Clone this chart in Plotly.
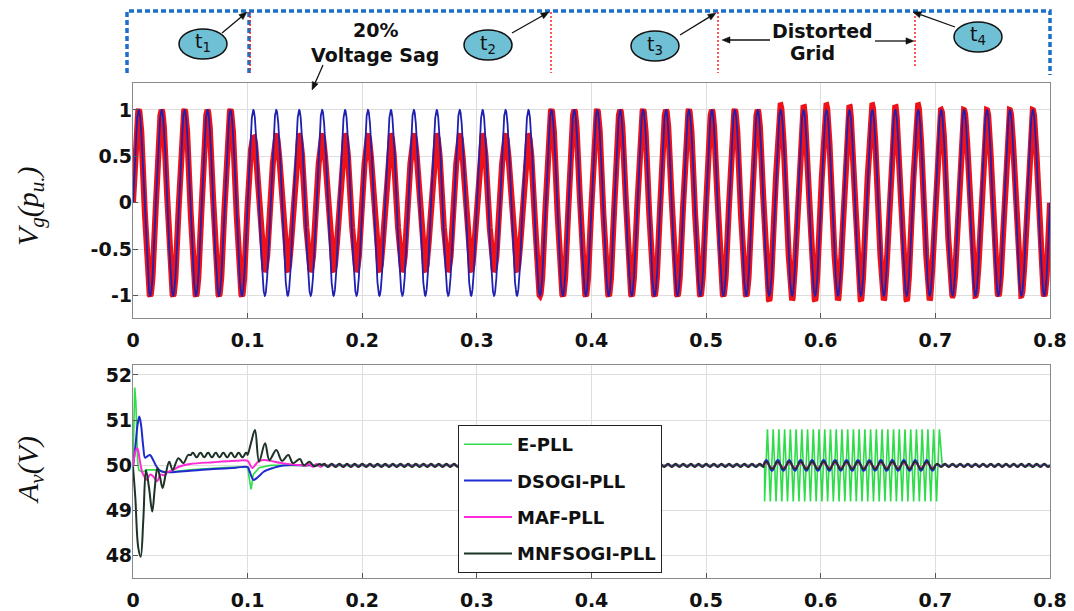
import numpy as np
import plotly.graph_objects as go

W, H = 1074, 611

# ---------------- top panel: grid voltage (p.u.) ----------------
F_GRID = 50.0          # Hz
T_END = 0.8
blue_amp = 1.0         # reference voltage amplitude
red_seg_start = [0.00, 0.10, 0.35, 0.55, 0.70]
red_seg_end   = [0.10, 0.35, 0.55, 0.70, 0.80]
red_seg_amp   = [1.00, 0.72, 1.00, 1.00, 1.00]
red_seg_h3    = [0.00, 0.00, 0.00, -0.03, 0.00]   # 3rd harmonic (distorted grid)
red_seg_h5    = [0.00, 0.00, 0.00, 0.02, 0.00]    # 5th harmonic

x_ticks = [0, 0.1, 0.2, 0.3, 0.4, 0.5, 0.6, 0.7, 0.8]
x_tick_text = ["0", "0.1", "0.2", "0.3", "0.4", "0.5", "0.6", "0.7", "0.8"]
y1_ticks = [-1, -0.5, 0, 0.5, 1]
y1_tick_text = ["-1", "-0.5", "0", "0.5", "1"]
y2_ticks = [48, 49, 50, 51, 52]
y2_tick_text = ["48", "49", "50", "51", "52"]

# ---------------- bottom panel: estimated amplitude (V) ----------------
series_names = ["E-PLL", "DSOGI-PLL", "MAF-PLL", "MNFSOGI-PLL"]
series_colors = ["#2fdc4a", "#1f2ad0", "#ff2bd6", "#1d3327"]

epll_t = [0.0, 0.0008, 0.0015, 0.0025, 0.004, 0.005, 0.008, 0.012, 0.02, 0.03,
          0.05, 0.08, 0.1, 0.1015, 0.103, 0.105, 0.11, 0.12, 0.15]
epll_v = [50.0, 51.0, 51.72, 51.4, 50.1, 49.9, 49.85, 49.9, 49.9, 49.85,
          49.9, 49.95, 49.97, 49.7, 49.47, 49.8, 49.95, 50.0, 50.0]
epll_ripple = [(0.15, 0.551, 50.0, 0.01, 150), (0.706, 0.8, 50.0, 0.01, 150)]
epll_dist = dict(start=0.551, end=0.706, period=0.005, hi=50.8, lo=49.2)

dsogi_t = [0.0, 0.002, 0.004, 0.0055, 0.007, 0.009, 0.0105, 0.0125, 0.0148, 0.018,
           0.0206, 0.024, 0.028, 0.035, 0.05, 0.07, 0.09, 0.1, 0.102, 0.105,
           0.108, 0.111, 0.114, 0.122, 0.131, 0.15]
dsogi_v = [49.97, 50.4, 50.9, 51.08, 50.9, 50.4, 50.17, 50.2, 50.23, 50.1,
           49.97, 49.88, 49.85, 49.85, 49.88, 49.92, 49.95, 49.96, 49.85, 49.68,
           49.72, 49.79, 49.86, 49.94, 50.0, 50.0]
dsogi_ripple = [(0.152, 0.55, 50.0, 0.01, 150), (0.55, 0.70, 50.0, 0.12, 100),
                (0.70, 0.8, 50.0, 0.01, 150)]

maf_t = [0.0, 0.002, 0.0038, 0.006, 0.008, 0.01, 0.012, 0.015, 0.018, 0.021,
         0.024, 0.027, 0.03, 0.035, 0.04, 0.05, 0.07, 0.09, 0.1, 0.102,
         0.104, 0.107, 0.11, 0.115, 0.12, 0.13, 0.15]
maf_v = [49.95, 50.3, 50.38, 50.1, 49.85, 49.75, 49.68, 49.8, 49.75, 49.65,
         49.8, 49.78, 49.85, 49.9, 49.97, 50.03, 50.07, 50.1, 50.1, 50.02,
         49.94, 50.02, 50.1, 50.12, 50.1, 50.05, 50.0]
maf_ripple = [(0.152, 0.55, 50.0, 0.03, 150), (0.55, 0.70, 50.0, 0.05, 100),
              (0.70, 0.8, 50.0, 0.03, 150)]

mnf_t = [0.0, 0.002, 0.0045, 0.0067, 0.009, 0.0113, 0.014, 0.0168, 0.019, 0.0212,
         0.0235, 0.0258, 0.0285, 0.0316, 0.0346, 0.0396, 0.044, 0.048,
         0.1, 0.103, 0.1064, 0.110, 0.1152, 0.119, 0.125, 0.130, 0.1355, 0.1395,
         0.1457, 0.149, 0.154, 0.158, 0.163]
mnf_v = [49.97, 49.3, 48.2, 47.98, 48.8, 49.9, 49.5, 48.98, 49.5, 49.94,
         49.75, 49.5, 49.8, 50.08, 49.9, 50.16, 50.05, 50.23,
         50.23, 50.5, 50.78, 50.08, 50.49, 50.12, 50.34, 50.1, 50.23, 50.05,
         50.14, 50.0, 50.08, 49.98, 50.03]
mnf_ripple = [(0.0505, 0.0995, 50.23, 0.05, 150), (0.165, 0.55, 50.0, 0.035, 150),
              (0.55, 0.70, 50.0, 0.08, 100), (0.70, 0.8, 50.0, 0.035, 150)]


def ripple_points(segments, spc=8):
    tt_all, vv_all = [], []
    for a, b, base, amp, f in segments:
        n = max(int((b - a) * f * spc), 2)
        tt = np.linspace(a, b, n + 1)
        vv = base + amp * np.sin(2 * np.pi * f * (tt - a))
        tt_all.extend(tt.tolist())
        vv_all.extend(vv.tolist())
    return tt_all, vv_all


def build(kp_t, kp_v, segments, extra=None):
    rt, rv = ripple_points(segments)
    t = list(kp_t) + rt
    v = list(kp_v) + rv
    if extra is not None:
        t += extra[0]
        v += extra[1]
    order = np.argsort(t, kind="stable")
    return np.array(t)[order], np.array(v)[order]


def zigzag(d):
    t, v = [], []
    k = d["start"]
    while k < d["end"]:
        t += [k, k + d["period"] / 2]
        v += [d["lo"], d["hi"]]
        k += d["period"]
    return t, v


# ---------------- figure ----------------
t_top = np.linspace(0, T_END, 16001)
blue_v = blue_amp * np.sin(2 * np.pi * F_GRID * t_top)
red_v = np.zeros_like(t_top)
for a, b, amp, h3, h5 in zip(red_seg_start, red_seg_end, red_seg_amp, red_seg_h3, red_seg_h5):
    m = (t_top >= a) & (t_top <= b)
    w = 2 * np.pi * F_GRID * t_top[m]
    red_v[m] = amp * (np.sin(w) + h3 * np.sin(3 * w) + h5 * np.sin(5 * w))

fig = go.Figure()
fig.add_trace(go.Scatter(x=t_top, y=red_v, mode="lines", line=dict(color="#ee1218", width=6),
                         showlegend=False, xaxis="x", yaxis="y", hoverinfo="skip"))
fig.add_trace(go.Scatter(x=t_top, y=blue_v, mode="lines", line=dict(color="#2020b0", width=1.8),
                         showlegend=False, xaxis="x", yaxis="y", hoverinfo="skip"))

ez = zigzag(epll_dist)
series = [
    build(epll_t, epll_v, epll_ripple, extra=ez),
    build(dsogi_t, dsogi_v, dsogi_ripple),
    build(maf_t, maf_v, maf_ripple),
    build(mnf_t, mnf_v, mnf_ripple),
]
shapes_ln = ["linear", "spline", "spline", "spline"]
widths = [1.6, 2.0, 2.0, 2.0]
for i, (name, col) in enumerate(zip(series_names, series_colors)):
    tt, vv = series[i]
    fig.add_trace(go.Scatter(x=tt, y=vv, mode="lines", name=name, legendgroup=name,
                             line=dict(color=col, width=widths[i], shape=shapes_ln[i]),
                             xaxis="x2", yaxis="y2", hoverinfo="skip"))


def px(x):
    return x / W


def py(y):
    return 1 - y / H


SANS = "DejaVu Sans, Liberation Sans, Arial"
axis_common = dict(showgrid=True, gridcolor="#dedede", gridwidth=1, showline=True,
                   linecolor="#8a8a8a", linewidth=1.2, mirror=True, ticks="inside",
                   ticklen=5, tickcolor="#555", zeroline=False, automargin=False,
                   tickfont=dict(family=SANS, size=19, color="#111", weight="bold"))

fig.update_layout(
    width=W, height=H, margin=dict(l=0, r=0, t=0, b=0, autoexpand=False),
    paper_bgcolor="white", plot_bgcolor="white",
    xaxis=dict(domain=[px(133), px(1050)], range=[0, 0.8], tickvals=x_ticks, ticktext=x_tick_text,
               anchor="y", ticklabelstandoff=5, **axis_common),
    yaxis=dict(domain=[py(318), py(83)], range=[-1.24, 1.29], tickvals=y1_ticks, ticktext=y1_tick_text,
               anchor="x", ticklabelstandoff=-4, **axis_common),
    xaxis2=dict(domain=[px(133), px(1050)], range=[0, 0.8], tickvals=x_ticks, ticktext=x_tick_text,
                anchor="y2", ticklabelstandoff=5, **axis_common),
    yaxis2=dict(domain=[py(578), py(365)], range=[47.51, 52.22], tickvals=y2_ticks, ticktext=y2_tick_text,
                anchor="x2", ticklabelstandoff=-4, **axis_common),
    legend=dict(x=px(458), y=py(425), xanchor="left", yanchor="top", bgcolor="white",
                bordercolor="#222", borderwidth=1, itemwidth=48, tracegroupgap=10,
                traceorder="grouped",
                font=dict(family=SANS, size=18, color="#111", weight="bold")),
)

shapes = []
blue_dot = dict(color="#1a6fc8", width=3.5, dash="5px,3px")
# dotted frame (left, top, right)
shapes.append(dict(type="path", xref="paper", yref="paper",
                   path=f"M {px(127)},{py(73)} L {px(127)},{py(11)} L {px(1050)},{py(11)} L {px(1050)},{py(75)}",
                   line=blue_dot))
shapes.append(dict(type="line", xref="paper", yref="paper", x0=px(249), x1=px(249), y0=py(12), y1=py(74),
                   line=blue_dot))
for xl, y0, y1 in [(250, 12, 73), (551, 12, 73), (718, 12, 73), (915, 12, 68)]:
    shapes.append(dict(type="line", xref="paper", yref="paper", x0=px(xl), x1=px(xl), y0=py(y0), y1=py(y1),
                       line=dict(color="#ff2020", width=1.5, dash="2px,2px")))
ell = [(203, 44, "1"), (488, 45, "2"), (655, 46, "3"), (978, 37, "4")]
annotations = []
for cx, cy, s in ell:
    shapes.append(dict(type="circle", xref="paper", yref="paper", x0=px(cx - 24), x1=px(cx + 24),
                       y0=py(cy + 15), y1=py(cy - 15), fillcolor="#6fc0d4",
                       line=dict(color="#111", width=1.5)))
    annotations.append(dict(x=px(cx), y=py(cy - 1), xref="paper", yref="paper", showarrow=False,
                            text=f"t<sub>{s}</sub>", yanchor="middle", xanchor="center",
                            font=dict(family=SANS, size=19, color="#111")))

# arrows: (head_x, head_y, tail_x, tail_y) in pixels, drawn as line + filled head
arrows = [(247, 12, 222, 33), (549, 12, 512, 33), (716, 13, 680, 35), (913, 12, 955, 27),
          (312, 90, 323, 65), (722, 40, 770, 40), (914, 41, 875, 41)]
for hx, hy, tx, ty in arrows:
    d = np.hypot(hx - tx, hy - ty)
    ux, uy = (hx - tx) / d, (hy - ty) / d
    L, hw = 8.0, 3.2
    bx, by = hx - ux * L, hy - uy * L
    shapes.append(dict(type="line", xref="paper", yref="paper", x0=px(tx), y0=py(ty), x1=px(bx), y1=py(by),
                       line=dict(color="#111", width=1.3)))
    p1 = (bx - uy * hw, by + ux * hw)
    p2 = (bx + uy * hw, by - ux * hw)
    shapes.append(dict(type="path", xref="paper", yref="paper",
                       path=f"M {px(hx)},{py(hy)} L {px(p1[0])},{py(p1[1])} L {px(p2[0])},{py(p2[1])} Z",
                       fillcolor="#111", line=dict(color="#111", width=0.5)))

bold = dict(family=SANS, size=19, color="#111", weight="bold")
annotations += [
    dict(x=px(375), y=py(30), text="20%", font=bold),
    dict(x=px(375), y=py(55), text="Voltage Sag", font=bold),
    dict(x=px(822), y=py(31), text="Distorted", font=bold),
    dict(x=px(812), y=py(53), text="Grid", font=bold),
    dict(x=px(30), y=py(206), textangle=-90, text="<i>V<sub>g</sub>(p<sub>u.</sub>)</i>",
         font=dict(family="Liberation Serif, Times New Roman", size=30, color="#111")),
    dict(x=px(30), y=py(470), textangle=-90, text="<i>A<sub>v</sub>(V)</i>",
         font=dict(family="Liberation Serif, Times New Roman", size=30, color="#111")),
]
for a in annotations[len(ell):]:
    a.update(xref="paper", yref="paper", showarrow=False, xanchor="center", yanchor="middle")
fig.update_layout(shapes=shapes, annotations=annotations)

fig.write_html("out.html", config={"displayModeBar": False},
               post_script="document.body.style.margin='0px';document.body.style.overflow='hidden';")
